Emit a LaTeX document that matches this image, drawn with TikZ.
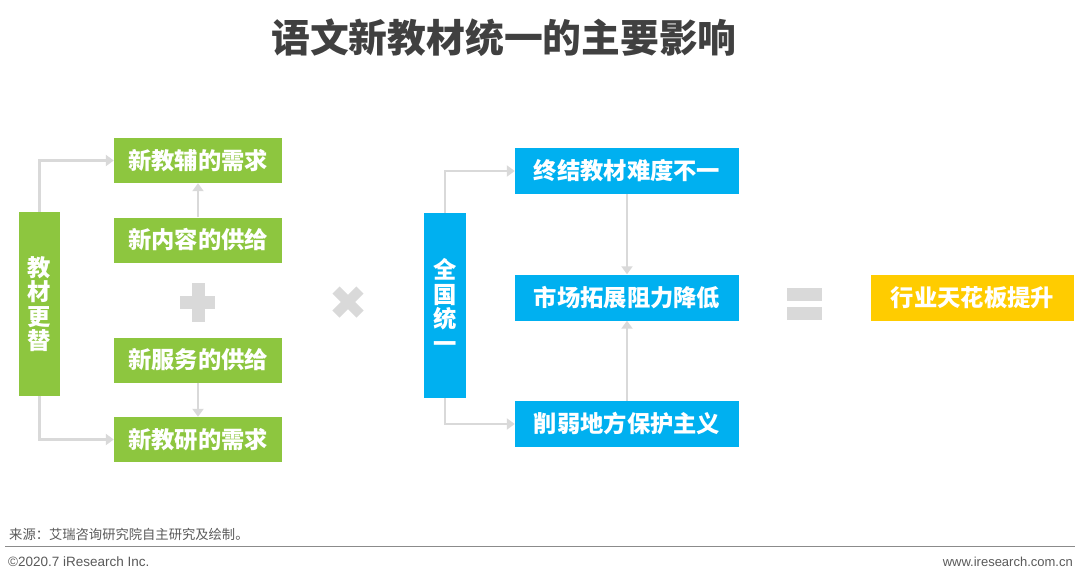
\documentclass[tikz,border=0pt]{standalone}
\usepackage{fontspec}
\newfontfamily\cjk{Noto Sans CJK SC}
\setmainfont{Liberation Sans}
\usetikzlibrary{arrows.meta}
\definecolor{gr}{HTML}{8DC63F}
\definecolor{bl}{HTML}{00B0F0}
\definecolor{ye}{HTML}{FFCC00}
\definecolor{lg}{HTML}{D9D9D9}
\definecolor{tt}{HTML}{404040}
\definecolor{ft}{HTML}{595959}
\tikzset{
  boxg/.style={fill=gr,draw=none,inner sep=0pt,minimum width=168pt,minimum height=45pt,text=white,font=\cjk\bfseries\fontsize{23.3}{25}\selectfont},
  boxb/.style={fill=bl,draw=none,inner sep=0pt,minimum width=224pt,minimum height=46pt,text=white,font=\cjk\bfseries\fontsize{23.3}{25}\selectfont},
  vbox/.style={draw=none,inner sep=0pt,minimum width=41pt,minimum height=184pt,text=white,align=center,font=\cjk\bfseries\fontsize{23.3}{24.5}\selectfont},
  conn/.style={draw=lg,line width=2.2pt,-{Triangle[length=8pt,width=11pt]}},
  sym/.style={fill=lg,draw=none}
}
\begin{document}
\begin{tikzpicture}[x=1pt,y=-1pt]
\useasboundingbox (0,0) rectangle (1080,581);
\node[text=tt,font=\cjk\bfseries\fontsize{38.8}{42}\selectfont] (title) at (504,38) {语文新教材统一的主要影响};
% left group
\node[boxg] (a1) at (198,160.5) {新教辅的需求};
\node[boxg] (a2) at (198,240) {新内容的供给};
\node[boxg] (a3) at (198,360) {新服务的供给};
\node[boxg] (a4) at (198,439.5) {新教研的需求};
\node[vbox,fill=gr] (va) at (39.5,304) {教\\材\\更\\替};
\draw[conn] (va.north) |- (a1.west);
\draw[conn] (va.south) |- (a4.west);
\draw[conn] (a2.north) -- (a1.south);
\draw[conn] (a3.south) -- (a4.north);
% plus
\fill[sym] (180,296) rectangle (215,309);
\fill[sym] (191.5,283) rectangle (204.5,322);
% times
\draw[lg,line width=10pt] (336,290) -- (360,314);
\draw[lg,line width=10pt] (336,314) -- (360,290);
% middle group
\node[boxb] (b1) at (627,171) {终结教材难度不一};
\node[boxb] (b2) at (627,297.5) {市场拓展阻力降低};
\node[boxb] (b3) at (627,424) {削弱地方保护主义};
\node[vbox,fill=bl,minimum width=42pt,minimum height=185pt] (vb) at (445,305.5) {全\\国\\统\\一};
\draw[conn] (vb.north) |- (b1.west);
\draw[conn] (vb.south) |- (b3.west);
\draw[conn] (b1.south) -- (b2.north);
\draw[conn] (b3.north) -- (b2.south);
% equals
\fill[sym] (787,288) rectangle (822,301);
\fill[sym] (787,307) rectangle (822,320);
\node[fill=ye,inner sep=0pt,minimum width=203pt,minimum height=46pt,text=white,font=\cjk\bfseries\fontsize{23.3}{25}\selectfont] (c1) at (972.5,298) {行业天花板提升};
% footer
\node[anchor=west,text=ft,font=\cjk\fontsize{13.3}{15}\selectfont,inner sep=0pt] (src) at (9,534) {来源：艾瑞咨询研究院自主研究及绘制。};
\draw[draw=ft!70,line width=1.8pt] (5,546.5) -- (1075,546.5);
\node[anchor=west,text=ft,font=\fontsize{13.5}{15}\selectfont,inner sep=0pt] (cp) at (8,561.5) {©2020.7 iResearch Inc.};
\node[anchor=east,text=ft,font=\fontsize{13}{15}\selectfont,inner sep=0pt] (web) at (1073,561.5) {www.iresearch.com.cn};
\end{tikzpicture}
\end{document}
